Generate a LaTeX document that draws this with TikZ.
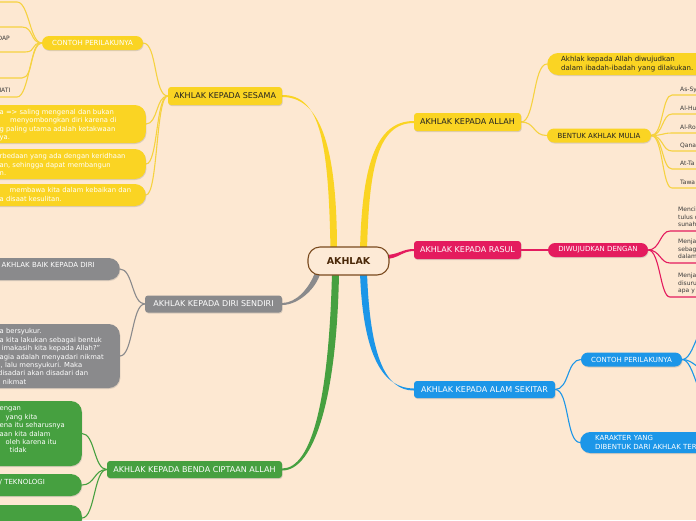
\documentclass[tikz,border=0pt]{standalone}
\usepackage{fontspec}
\setmainfont{DejaVu Sans}
\usetikzlibrary{shadows,calc}
\definecolor{bgc}{HTML}{FDE8D2}
\definecolor{cY}{HTML}{FAD423}
\definecolor{lY}{HTML}{F6D240}
\definecolor{cP}{HTML}{E41B5E}
\definecolor{cG}{HTML}{8A8A8C}
\definecolor{cN}{HTML}{46A040}
\definecolor{cB}{HTML}{1C96E8}
\definecolor{rootB}{HTML}{7A4A1E}
\definecolor{rootT}{HTML}{4A2808}
\definecolor{rootF}{HTML}{FDEAD6}
\definecolor{dk}{HTML}{222222}
\definecolor{lf}{HTML}{3A3A3A}
\pgfdeclarelayer{back}
\pgfdeclarelayer{conn}
\pgfsetlayers{back,conn,main}
\tikzset{
  every node/.style={inner sep=0pt},
  shad/.style={drop shadow={shadow xshift=0.6pt,shadow yshift=-1pt,opacity=0.28}},
  mainbox/.style={shad, rounded corners=3pt, minimum height=18pt, font=\fontsize{8}{9.6}\selectfont},
  subbox/.style={shad, rounded corners=7pt, minimum height=14pt, font=\fontsize{7}{8.4}\selectfont},
  leafbox/.style={shad, rounded corners=11pt},
  boxtext/.style={align=left, anchor=west, font=\fontsize{6.8}{8.4}\selectfont},
  leaftext/.style={align=left, font=\fontsize{6}{7.4}\selectfont, text=lf},
  lnY/.style={draw=lY, line width=1.1pt},
  lnP/.style={draw=cP, line width=1.1pt},
  lnG/.style={draw=cG, line width=1.1pt},
  lnN/.style={draw=cN, line width=1.1pt},
  lnB/.style={draw=cB, line width=1.1pt},
}
\begin{document}
\begin{tikzpicture}[x=1pt,y=-1pt]
\useasboundingbox (0,0) rectangle (696,520);
\begin{pgfonlayer}{back}
\fill[bgc] (0,0) rectangle (696,520);
\end{pgfonlayer}

% root
\node[draw=rootB, line width=1.1pt, fill=rootF, rounded corners=12pt, minimum width=81pt, minimum height=28pt, font=\bfseries\fontsize{9.5}{11}\selectfont, text=rootT] (root) at (348.5,261) {AKHLAK};

% main branches
\node[mainbox, fill=cY, text=dk, minimum width=114pt] (sesama) at (225,96) {AKHLAK KEPADA SESAMA};
\node[mainbox, fill=cY, text=dk, minimum width=107pt] (allah) at (467.5,122) {AKHLAK KEPADA ALLAH};
\node[mainbox, fill=cP, text=white, minimum width=107pt] (rasul) at (467.5,250) {AKHLAK KEPADA RASUL};
\node[mainbox, fill=cG, text=white, minimum width=137pt, minimum height=17pt] (diri) at (213.5,304) {AKHLAK KEPADA DIRI SENDIRI};
\node[mainbox, fill=cB, text=white, minimum width=141pt, minimum height=17pt] (alam) at (484.5,389.5) {AKHLAK KEPADA ALAM SEKITAR};
\node[mainbox, fill=cN, text=white, minimum width=175pt, minimum height=17pt] (benda) at (194.5,469.5) {AKHLAK KEPADA BENDA CIPTAAN ALLAH};

% sub branches
\node[subbox, fill=cY, text=white, minimum width=101pt] (contohY) at (92.5,43) {CONTOH PERILAKUNYA};
\node[subbox, fill=cY, text=dk, minimum width=104pt] (bentuk) at (599,135.5) {BENTUK AKHLAK MULIA};
\node[subbox, fill=cP, text=white, minimum width=100pt] (diwujud) at (598,250) {DIWUJUDKAN DENGAN};
\node[subbox, fill=cB, text=white, minimum width=101pt] (contohB) at (631.5,359.5) {CONTOH PERILAKUNYA};
\node[shad, fill=cY, text=dk, rounded corners=11pt, minimum height=22pt, anchor=west, inner xsep=14pt, text width=150pt, align=left, font=\fontsize{7}{8.3}\selectfont] (ibadah) at (547,64) {Akhlak kepada Allah diwujudkan\\dalam ibadah-ibadah yang dilakukan.};
\node[shad, fill=cB, text=white, rounded corners=10pt, minimum height=21pt, anchor=west, inner xsep=15pt, text width=150pt, align=left, font=\fontsize{7}{9.5}\selectfont] (karakter) at (580,442.5) {KARAKTER YANG\\DIBENTUK DARI AKHLAK TER};

% yellow leaf boxes (left)
\node[leafbox, fill=cY, anchor=east, minimum width=170pt, minimum height=38pt] (y1) at (146,124) {};
\node[boxtext, text=white] (y1t) at (-0.5,125) {a => saling mengenal dan bukan\\\hspace*{10.5pt}menyombongkan diri karena di\\g paling utama adalah ketakwaan\\ya.};
\node[leafbox, fill=cY, anchor=east, minimum width=170pt, minimum height=30pt] (y2) at (146,164) {};
\node[boxtext, text=white] (y2t) at (-0.5,164.5) {rbedaan yang ada dengan keridhaan\\an, sehingga dapat membangun\\n.};
\node[leafbox, fill=cY, anchor=east, minimum width=170pt, minimum height=22pt] (y3) at (146,195) {};
\node[boxtext, text=white] (y3t) at (-0.5,194.5) {\hspace*{10pt}membawa kita dalam kebaikan dan\\a disaat kesulitan.};

% gray leaf boxes
\node[leafbox, fill=cG, anchor=east, minimum width=170pt, minimum height=22pt] (g1) at (120,269) {};
\node[boxtext, text=white, font=\fontsize{7}{8.4}\selectfont] (g1t) at (1.5,265) {AKHLAK BAIK KEPADA DIRI};
\node[leafbox, fill=cG, anchor=east, minimum width=170pt, minimum height=64pt] (g2) at (120,356) {};
\node[boxtext, text=white] (g2t) at (-0.5,356.5) {a bersyukur.\\a kita lakukan sebagai bentuk\\\hspace*{2pt}imakasih kita kepada Allah?”\\agia adalah menyadari nikmat\\\hspace*{1pt}, lalu mensyukuri. Maka\\\hspace*{-1.5pt}disadari akan disadari dan\\\hspace*{3pt}nikmat};

% green leaf boxes
\node[leafbox, fill=cN, anchor=east, minimum width=170pt, minimum height=65pt] (n1) at (82,433.5) {};
\node[boxtext, text=white] (n1t) at (-0.5,430) {engan\\\hspace*{6pt}yang kita\\ena itu seharusnya\\aan kita dalam\\\hspace*{6pt}oleh karena itu\\\hspace*{10pt}tidak};
\node[leafbox, fill=cN, anchor=east, minimum width=170pt, minimum height=22pt] (n2) at (82,485) {};
\node[boxtext, text=white, font=\fontsize{7}{8.4}\selectfont] (n2t) at (-0.5,482) {/ TEKNOLOGI};
\node[leafbox, fill=cN, anchor=east, minimum width=170pt, minimum height=26pt] (n3) at (82,518) {};

% leaf texts of left CONTOH
\node[leaftext, anchor=east] (s2t) at (10,38) {DAP};
\node[leaftext, anchor=east] (s5t) at (10.5,90) {MATI};

\begin{pgfonlayer}{conn}
% trunks
\fill[cY] ($(root.north)+(-18,4)$) .. controls +(-2,-110) and +(38,0) .. ($(sesama.east)+(0,-1)$) -- ($(sesama.east)+(0,1)$) .. controls +(36,0) and +(0,-110) .. ($(root.north)+(-11.5,4)$) -- cycle;
\fill[cY] ($(root.north)+(11.5,4)$) .. controls +(2,-80) and +(-40,0) .. ($(allah.west)+(0,-1)$) -- ($(allah.west)+(0,1)$) .. controls +(-37,0) and +(2,-80) .. ($(root.north)+(18.5,4)$) -- cycle;
\fill[cP] ($(root.east)+(-5,-6)$) .. controls +(14,0) and +(-12,0) .. ($(rasul.west)+(0,-1)$) -- ($(rasul.west)+(0,1)$) .. controls +(-12,0) and +(14,0) .. ($(root.east)+(-5,-2)$) -- cycle;
\fill[cG] ($(root.south)+(-33.5,-3)$) .. controls +(-6,16) and +(14,0) .. ($(diri.east)+(0,-1)$) -- ($(diri.east)+(0,1)$) .. controls +(16,0) and +(-4,16) .. ($(root.south)+(-28,-3)$) -- cycle;
\fill[cN] ($(root.south)+(-16.5,-3)$) .. controls +(-3,125) and +(30,0) .. ($(benda.east)+(0,-1)$) -- ($(benda.east)+(0,1)$) .. controls +(32,0) and +(-2,125) .. ($(root.south)+(-9.5,-3)$) -- cycle;
\fill[cB] ($(root.south)+(11.5,-3)$) .. controls +(3,85) and +(-30,0) .. ($(alam.west)+(0,-1)$) -- ($(alam.west)+(0,1)$) .. controls +(-28,0) and +(3,85) .. ($(root.south)+(18.5,-3)$) -- cycle;

% sesama
\draw[lnY] (sesama.west) .. controls +(-14,0) and +(14,0) .. (contohY.east);
\foreach \t in {y1,y2,y3} \draw[lnY] (sesama.west) .. controls +(-12,0) and +(12,0) .. (\t.east);
\coordinate (s1) at (17,2);
\coordinate (s2) at (22,27);
\coordinate (s3) at (25,52);
\coordinate (s4) at (22,78);
\coordinate (s5) at (17,97);
\foreach \s in {s1,s2,s3,s4,s5} \draw[lnY] (contohY.west) .. controls +(-12,0) and +(12,0) .. (\s) -- +(-25,0);

% allah
\draw[lnY] (allah.east) .. controls +(14,0) and +(-14,0) .. (ibadah.west);
\draw[lnY] (allah.east) .. controls +(14,0) and +(-14,0) .. (bentuk.west);
\foreach \i/\u/\t in {1/95/As-Sy, 2/114/Al-Hu, 3/133/Al-Ro, 4/151/Qana, 5/169/At-Ta, 6/188/Tawa} {
  \coordinate (b\i) at (672,\u);
  \draw[lnY] (bentuk.east) .. controls +(12,0) and +(-10,0) .. (b\i) -- +(30,0);
  \node[leaftext, anchor=base west] (bt\i) at ($(b\i)+(8,-4)$) {\t};
}

% rasul
\draw[lnP] (rasul.east) -- (diwujud.west);
\foreach \i/\u/\a/\b/\c in {1/231/Menci/tulus d/sunah, 2/263/Menja/sebag/dalam, 3/297/Menja/disuru/apa y} {
  \coordinate (r\i) at (670,\u);
  \draw[lnP] (diwujud.east) .. controls +(12,0) and +(-10,0) .. (r\i) -- +(30,0);
  \node[leaftext, anchor=north west] (rt\i) at ($(r\i)+(8,-24)$) {\a\\\b\\\c};
}

% diri
\draw[lnG] (diri.west) .. controls +(-13,0) and +(13,0) .. (g1.east);
\draw[lnG] (diri.west) .. controls +(-13,0) and +(13,0) .. (g2.east);

% alam
\draw[lnB] (alam.east) .. controls +(14,0) and +(-14,0) .. (contohB.west);
\draw[lnB] (alam.east) .. controls +(14,0) and +(-14,0) .. (karakter.west);
\coordinate (c1) at (712,320);
\coordinate (c2) at (712,372);
\coordinate (c3) at (712,405);
\foreach \c in {c1,c2,c3} \draw[lnB] (contohB.east) .. controls +(12,0) and +(-14,0) .. (\c);

% benda
\foreach \t in {n1,n2,n3} \draw[lnN] (benda.west) .. controls +(-13,0) and +(13,0) .. (\t.east);
\end{pgfonlayer}
\end{tikzpicture}
\end{document}
